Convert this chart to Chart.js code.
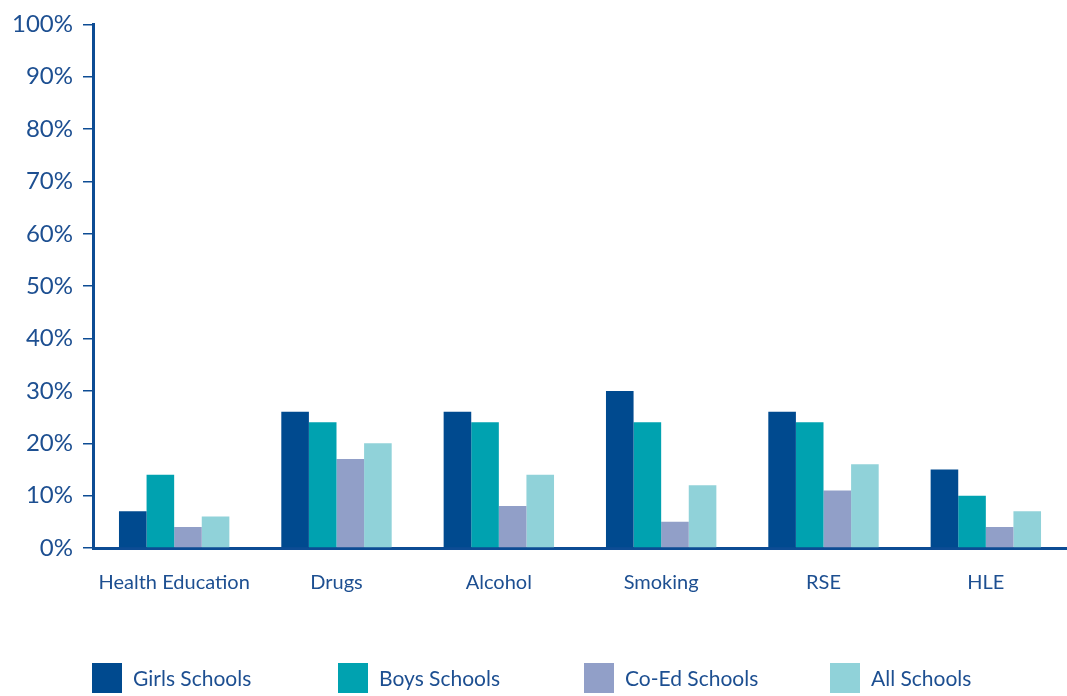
<!DOCTYPE html>
<html>
<head>
<meta charset="utf-8">
<script src="https://cdn.jsdelivr.net/npm/chart.js@4"></script>
<style>
  html, body { margin: 0; padding: 0; background: #fff; }
  #wrap { position: relative; width: 1067px; height: 696px; }
  #legend { position: absolute; left: 92px; top: 663px; display: flex; font-family: Lato, sans-serif; font-size: 21px; line-height: 28px; color: #1d4f91; }
  #legend div { width: 246px; display: flex; align-items: center; }
  #legend span { display: inline-block; width: 30px; height: 30px; margin-right: 11px; }
</style>
</head>
<body>
<div id="wrap">
  <canvas id="chart" width="1067" height="696"></canvas>
  <div id="legend"></div>
</div>
<script>
const categories = ['Health Education', 'Drugs', 'Alcohol', 'Smoking', 'RSE', 'HLE'];
const girlsSchools = [7, 26, 26, 30, 26, 15];
const boysSchools = [14, 24, 24, 24, 24, 10];
const coEdSchools = [4, 17, 8, 5, 11, 4];
const allSchools = [6, 20, 14, 12, 16, 7];
const seriesNames = ['Girls Schools', 'Boys Schools', 'Co-Ed Schools', 'All Schools'];
const seriesColors = ['#004a8f', '#00a2b0', '#919fc8', '#90d2d9'];
const yTicks = [0, 10, 20, 30, 40, 50, 60, 70, 80, 90, 100];

const textColor = '#1d4f91';
const axisColor = '#0d4c94';

const seriesData = [girlsSchools, boysSchools, coEdSchools, allSchools];

new Chart(document.getElementById('chart'), {
    type: 'bar',
    data: {
        labels: categories,
        datasets: seriesData.map((d, i) => ({
            label: seriesNames[i],
            data: d,
            backgroundColor: seriesColors[i],
            borderWidth: 0,
            barPercentage: 1,
            categoryPercentage: 0.68
        }))
    },
    options: {
        responsive: false,
        animation: false,
        layout: { padding: { top: 20, right: 0, left: 0, bottom: 0 } },
        plugins: { legend: { display: false }, tooltip: { enabled: false } },
        scales: {
            x: {
                grid: { display: false, drawTicks: false },
                border: { color: axisColor, width: 3 },
                ticks: { color: textColor, padding: 23, font: { family: 'Lato', size: 20 } },
                afterFit: s => { s.height = 148; }
            },
            y: {
                min: 0,
                max: 100,
                afterBuildTicks: s => { s.ticks = yTicks.map(v => ({ value: v })); },
                grid: { drawOnChartArea: false, tickLength: 10, color: axisColor, lineWidth: 1.5 },
                border: { color: axisColor, width: 3 },
                ticks: { color: textColor, padding: 10, font: { family: 'Lato', size: 24 }, callback: v => v + '%' },
                afterFit: s => { s.width = 93; }
            }
        }
    }
});

// legend with fixed-width slots
const legend = document.getElementById('legend');
seriesNames.forEach((name, i) => {
    const item = document.createElement('div');
    const box = document.createElement('span');
    box.style.background = seriesColors[i];
    item.appendChild(box);
    item.appendChild(document.createTextNode(name));
    legend.appendChild(item);
});
</script>
</body>
</html>
